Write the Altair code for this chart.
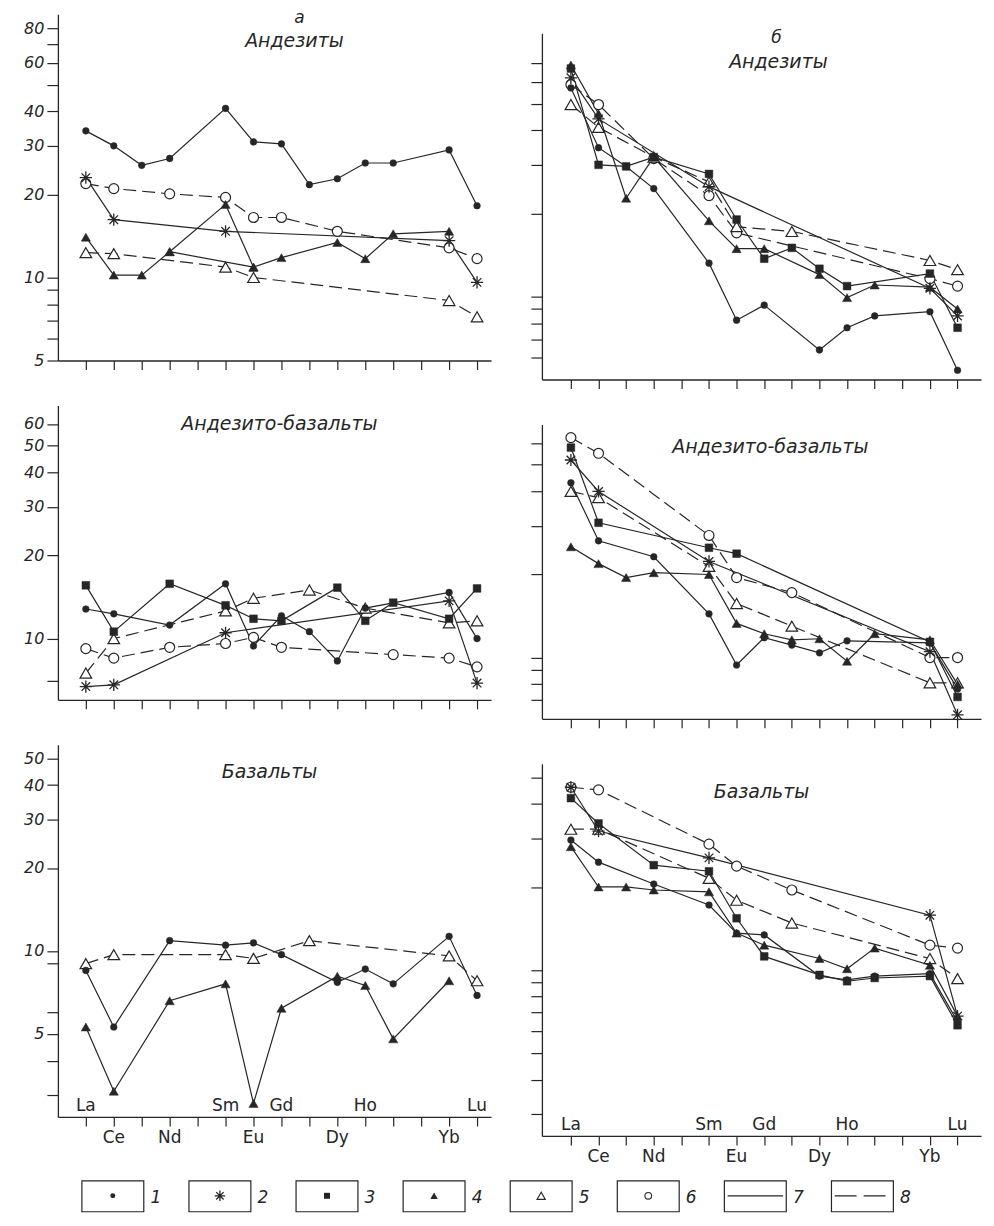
import json
import altair as alt
import pandas as pd

N = None
ELEMENTS = ["La", "Ce", "Pr", "Nd", "Pm", "Sm", "Eu", "Gd", "Tb", "Dy", "Ho", "Er", "Tm", "Yb", "Lu"]
LABELS_ABOVE = ["La", "Sm", "Gd", "Ho", "Lu"]
LABELS_BELOW = ["Ce", "Nd", "Eu", "Dy", "Yb"]

# --- а: Андезиты ---
a_and_1 = [34, 30, 25.5, 27, N, 41, 31, 30.5, 21.7, 22.8, 26, 26, N, 29, 18.2]
a_and_2 = [23, 16.2, N, N, N, 14.7, N, N, N, N, N, N, N, 13.6, 9.6]
a_and_4 = [14, 10.2, 10.2, 12.4, N, 18.4, 10.9, 11.8, N, 13.4, 11.7, 14.4, N, 14.7, N]
a_and_4b = [N, N, N, 12.4, N, N, 10.9, N, N, N, N, N, N, N, N]
a_and_5 = [12.3, 12.2, N, N, N, 10.9, 10.0, N, N, N, N, N, N, 8.25, 7.2]
a_and_6 = [21.9, 21, N, 20.1, N, 19.5, 16.5, 16.5, N, 14.7, N, N, N, 12.8, 11.7]

# --- б: Андезиты ---
b_and_1 = [57, 34.6, 29.6, 24.6, N, 13.2, 8.2, 9.3, N, 6.4, 7.7, 8.5, N, 8.8, 5.4]
b_and_2 = [62, 44, N, N, N, 25, N, N, N, N, N, N, N, 10.7, 8.5]
b_and_3 = [67, 30, 29.6, 32, N, 27.8, 19, 13.7, 15, 12.6, 10.9, N, N, 12.1, 7.7]
b_and_4 = [69, 46, 22.7, 32, N, 18.8, 14.9, 14.9, N, 12.0, 9.9, 11, N, 10.8, 9.0]
b_and_5 = [49.6, 41, N, 32, N, 26, 17.9, N, 17.2, N, N, N, N, 13.5, 12.5]
b_and_6 = [58.6, 49.6, N, 31.6, N, 23.2, 17, N, N, N, N, N, N, 11.6, 10.9]

# --- а: Андезито-базальты ---
ab_a_1 = [12.8, 12.3, N, 11.2, N, 15.8, 9.4, 12.1, 10.6, 8.3, 12.9, N, N, 14.7, 10.0]
ab_a_2 = [6.7, 6.8, N, N, N, 10.5, N, N, N, N, N, N, N, 13.7, 6.9]
ab_a_3 = [15.6, 10.6, N, 15.8, N, 13.2, 11.8, 11.6, N, 15.3, 11.6, 13.5, N, 11.8, 15.2]
ab_a_5 = [7.5, 10.0, N, N, N, 12.6, 14.0, N, 15.0, N, 12.9, N, N, 11.4, 11.6]
ab_a_6 = [9.2, 8.5, N, 9.3, N, 9.6, 10.1, 9.3, N, N, N, 8.75, N, 8.5, 7.9]

# --- б: Андезито-базальты ---
ab_b_1 = [43, 26.5, N, 23.2, N, 14.4, 9.4, 11.8, 11.1, 10.4, 11.5, N, N, 11.3, 7.7]
ab_b_2 = [52, 40, N, N, N, 22.3, N, N, N, N, N, N, N, 10.5, 6.2]
ab_b_3 = [57.7, 30.8, N, N, N, 25, 23.8, N, N, N, N, N, N, 11.4, 7.2]
ab_b_4 = [25.2, 21.9, 19.5, 20.3, N, 20, 13.3, 12.2, 11.6, 11.7, 9.7, 12.2, N, 11.6, 8.0]
ab_b_5 = [40, 38, N, N, N, 21.4, 15.7, N, 13, N, N, N, N, 8.1, 8.1]
ab_b_6 = [62.7, 55, N, N, N, 27.7, 19.5, N, 17.2, N, N, N, N, 10.0, 10.0]

# --- а: Базальты ---
bas_a_1 = [8.5, 5.3, N, 10.9, N, 10.5, 10.7, 9.7, N, 7.7, 8.6, 7.6, N, 11.3, 6.9]
bas_a_4 = [5.3, 3.1, N, 6.6, N, 7.6, 2.8, 6.2, N, 8.1, 7.5, 4.8, N, 7.8, N]
bas_a_5 = [9.0, 9.7, N, N, N, 9.7, 9.4, N, 10.9, N, N, N, N, 9.6, 7.8]

# --- б: Базальты ---
bas_b_1 = [29.6, 24.6, N, 20.5, N, 17.2, 13.6, 13.4, N, 9.5, 9.2, 9.5, N, 9.7, 6.5]
bas_b_2 = [46, 31.9, N, N, N, 25.5, N, N, N, N, N, N, N, 15.8, 6.8]
bas_b_3 = [42, 34, N, 24, N, 22.8, 15.4, 11.2, N, 9.6, 9.1, 9.35, N, 9.5, 6.3]
bas_b_4 = [28, 20, 20, 19.5, N, 19.2, 13.6, 12.3, N, 11.0, 10.1, 12.0, N, 10.4, 6.8]
bas_b_5 = [32.4, 32.4, N, N, N, 21.5, 17.9, N, 14.8, N, N, N, N, 11.0, 9.3]
bas_b_6 = [46, 45, N, N, N, 28.6, 23.8, N, 19.5, N, N, N, N, 12.3, 12.0]

# marker codes: 1 filled circle, 2 asterisk, 3 filled square, 4 filled triangle,
# 5 open triangle, 6 open circle; line codes: 7 solid, 8 dashed
PANEL_A_AND = [(a_and_1, "1", "7"), (a_and_2, "2", "7"), (a_and_4, "4", "7"),
               (a_and_4b, "4", "7"), (a_and_5, "5", "8"), (a_and_6, "6", "8")]
PANEL_B_AND = [(b_and_1, "1", "7"), (b_and_2, "2", "7"), (b_and_3, "3", "7"),
               (b_and_4, "4", "7"), (b_and_5, "5", "8"), (b_and_6, "6", "8")]
PANEL_A_AB = [(ab_a_1, "1", "7"), (ab_a_2, "2", "7"), (ab_a_3, "3", "7"),
              (ab_a_5, "5", "8"), (ab_a_6, "6", "8")]
PANEL_B_AB = [(ab_b_1, "1", "7"), (ab_b_2, "2", "7"), (ab_b_3, "3", "7"),
              (ab_b_4, "4", "7"), (ab_b_5, "5", "8"), (ab_b_6, "6", "8")]
PANEL_A_BAS = [(bas_a_1, "1", "7"), (bas_a_4, "4", "7"), (bas_a_5, "5", "8")]
PANEL_B_BAS = [(bas_b_1, "1", "7"), (bas_b_2, "2", "7"), (bas_b_3, "3", "7"),
               (bas_b_4, "4", "7"), (bas_b_5, "5", "8"), (bas_b_6, "6", "8")]

LEGEND_KEYS = ["1", "2", "3", "4", "5", "6", "7", "8"]

INK = "#262626"
FONT = "DejaVu Sans"
ASTER = "M0,-1L0,1M-1,0L1,0M-0.7,-0.7L0.7,0.7M-0.7,0.7L0.7,-0.7"

MARKS = {
    "6": dict(shape="circle", size=100, filled=True, fill="white", stroke=INK, strokeWidth=1.2),
    "5": dict(shape="triangle-up", size=135, filled=True, fill="white", stroke=INK, strokeWidth=1.2),
    "2": dict(shape=ASTER, size=150, filled=False, stroke=INK, strokeWidth=1.3),
    "3": dict(shape="square", size=60, filled=True, fill=INK, stroke=INK, strokeWidth=0.5),
    "4": dict(shape="triangle-up", size=85, filled=True, fill=INK, stroke=INK, strokeWidth=0.5),
    "1": dict(shape="circle", size=45, filled=True, fill=INK, stroke=INK, strokeWidth=0.5),
}
LEG_MARKS = {
    "1": dict(shape="circle", size=25, filled=True, fill=INK),
    "2": dict(shape=ASTER, size=110, filled=False, stroke=INK, strokeWidth=1.3),
    "3": dict(shape="square", size=36, filled=True, fill=INK),
    "4": dict(shape="triangle-up", size=55, filled=True, fill=INK),
    "5": dict(shape="triangle-up", size=70, filled=True, fill="white", stroke=INK, strokeWidth=1.1),
    "6": dict(shape="circle", size=45, filled=True, fill="white", stroke=INK, strokeWidth=1.1),
}


def build(series):
    rows = []
    for sid, (vals, m, ln) in enumerate(series):
        for i, v in enumerate(vals):
            if v is not None:
                rows.append({"s": sid, "idx": i, "val": v, "m": m, "ln": ln})
    return pd.DataFrame(rows)


def panel(series, xdom, ydom, yticks, ylabels, w, h, titles, bottom=False):
    df = build(series)
    ax_x = alt.Axis(values=list(range(15)), labels=False, tickSize=9, title=None, grid=False)
    if ylabels:
        expr = "indexof(%s, datum.value) >= 0 ? format(datum.value, 'd') : ''" % json.dumps(ylabels)
        ax_y = alt.Axis(values=yticks, labelExpr=expr, tickSize=11, title=None, grid=False,
                        minExtent=45, maxExtent=45, labelPadding=3, labelOverlap=False)
    else:
        ax_y = alt.Axis(values=yticks, labels=False, tickSize=11, title=None, grid=False,
                        minExtent=12, maxExtent=12)
    X = alt.X("idx:Q", scale=alt.Scale(domain=xdom, nice=False, zero=False), axis=ax_x)
    Y = alt.Y("val:Q", scale=alt.Scale(type="log", domain=ydom, nice=False), axis=ax_y)
    base = alt.Chart(df).encode(x=X, y=Y)
    layers = [
        base.transform_filter("datum.ln == '7'").mark_line(color=INK, strokeWidth=1.2)
            .encode(detail="s:N", order="idx:Q"),
        base.transform_filter("datum.ln == '8'").mark_line(color=INK, strokeWidth=1.2, strokeDash=[13, 6])
            .encode(detail="s:N", order="idx:Q"),
    ]
    for m in ["6", "5", "2", "3", "4", "1"]:
        layers.append(base.transform_filter("datum.m == '%s'" % m).mark_point(opacity=1, **MARKS[m]))
    for (t, px, py, fs) in titles:
        layers.append(
            alt.Chart(pd.DataFrame({"t": [t]})).mark_text(
                font=FONT, fontStyle="italic", fontSize=fs, color=INK, baseline="middle"
            ).encode(text="t:N", x=alt.value(px), y=alt.value(py))
        )
    if bottom:
        above = pd.DataFrame({"el": LABELS_ABOVE, "idx": [ELEMENTS.index(e) for e in LABELS_ABOVE]})
        below = pd.DataFrame({"el": LABELS_BELOW, "idx": [ELEMENTS.index(e) for e in LABELS_BELOW]})
        layers.append(alt.Chart(above).mark_text(font=FONT, fontSize=17, color=INK, baseline="alphabetic")
                      .encode(x=X, text="el:N", y=alt.value(h - 6)))
        layers.append(alt.Chart(below).mark_text(font=FONT, fontSize=17, color=INK, baseline="top")
                      .encode(x=X, text="el:N", y=alt.value(h + 13)))
    return alt.layer(*layers).properties(width=w, height=h)


XL = [-1.0, 14.5]
XR = [-1.05, 14.85]
WL, WR = 434, 440
H1, H2, H3 = 347, 295, 373

p_a1 = panel(PANEL_A_AND, XL, [5, 90], [5, 6, 7, 8, 9, 10, 20, 30, 40, 50, 60, 70, 80],
             [5, 10, 20, 30, 40, 60, 80], WL, H1,
             [("а", 242, 4, 17), ("Андезиты", 237, 27, 19)])
p_a2 = panel(PANEL_A_AB, XL, [6, 70], [7, 10, 20, 30, 40, 50, 60],
             [10, 20, 30, 40, 50, 60], WL, H2,
             [("Андезито-базальты", 222, 19, 19)])
p_a3 = panel(PANEL_A_BAS, XL, [2.5, 56], [3, 4, 5, 6, 9, 10, 20, 30, 40, 50],
             [5, 10, 20, 30, 40, 50], WL, H3,
             [("Базальты", 212, 27, 19)], bottom=True)

p_b1 = panel(PANEL_B_AND, XR, [5, 90], [6, 7, 8, 9, 10, 20, 30, 40, 50, 60, 70],
             None, WR, H1,
             [("б", 235, 5, 17), ("Андезиты", 237, 29, 19)])
p_b2 = panel(PANEL_B_AB, XR, [6, 70], [7, 8, 9, 10, 20, 30, 40, 50, 60],
             None, WR, H2,
             [("Андезито-базальты", 229, 23, 19)])
p_b3 = panel(PANEL_B_BAS, XR, [2.5, 56], [3, 4, 5, 6, 7, 8, 9, 10, 20, 30, 40, 50],
             None, WR, H3,
             [("Базальты", 220, 28, 19)], bottom=True)

# small empty view that lowers the right column a little, as in the scan
spacer = alt.Chart(pd.DataFrame({"v": [0]})).mark_point(opacity=0).properties(width=WR, height=15)

left_col = alt.vconcat(p_a1, p_a2, p_a3, spacing=35)
right_inner = alt.vconcat(p_b1, p_b2, p_b3, spacing=35)
right_col = alt.vconcat(spacer, right_inner, spacing=0)
top = alt.hconcat(left_col, right_col, spacing=39)

# legend
legend_df = pd.DataFrame({
    "key": LEGEND_KEYS,
    "i": list(range(8)),
    "m": ["1", "2", "3", "4", "5", "6", "", ""],
    "ln": ["", "", "", "", "", "", "7", "8"],
})
LX = alt.Scale(domain=[-0.224, 7.884], nice=False, zero=False)
lbase = alt.Chart(legend_df).transform_calculate(
    x0="datum.i", x1="datum.i + 0.578", xc="datum.i + 0.289",
    xt="datum.i + 0.64", xl0="datum.i + 0.03", xl1="datum.i + 0.548")
leg_layers = [
    lbase.mark_rect(fill="white", stroke=INK, strokeWidth=1.2)
         .encode(x=alt.X("x0:Q", scale=LX, axis=None), x2="x1:Q", y=alt.value(2), y2=alt.value(33)),
    lbase.transform_filter("datum.ln == '7'").mark_rule(color=INK, strokeWidth=1.3)
         .encode(x=alt.X("xl0:Q", scale=LX, axis=None), x2="xl1:Q", y=alt.value(17)),
    lbase.transform_filter("datum.ln == '8'").mark_rule(color=INK, strokeWidth=1.3, strokeDash=[22, 7])
         .encode(x=alt.X("xl0:Q", scale=LX, axis=None), x2="xl1:Q", y=alt.value(17)),
]
for m in ["1", "2", "3", "4", "5", "6"]:
    leg_layers.append(lbase.transform_filter("datum.m == '%s'" % m).mark_point(opacity=1, **LEG_MARKS[m])
                      .encode(x=alt.X("xc:Q", scale=LX, axis=None), y=alt.value(17)))
leg_layers.append(lbase.mark_text(align="left", baseline="middle", font=FONT, fontStyle="italic",
                                  fontSize=17, color=INK)
                  .encode(x=alt.X("xt:Q", scale=LX, axis=None), y=alt.value(19), text="key:N"))
legend = alt.layer(*leg_layers).properties(width=870, height=36)

chart = alt.vconcat(top, legend, spacing=14).properties(
    padding={"left": 5, "top": 0, "right": 5, "bottom": 2}
).configure_view(strokeWidth=0).configure_axis(
    domainColor=INK, tickColor=INK, domainWidth=1.3, tickWidth=1.2,
    labelFont=FONT, labelFontStyle="italic", labelFontSize=16, labelColor=INK,
)

chart.save("out.html", embed_options={"renderer": "svg", "actions": False})
